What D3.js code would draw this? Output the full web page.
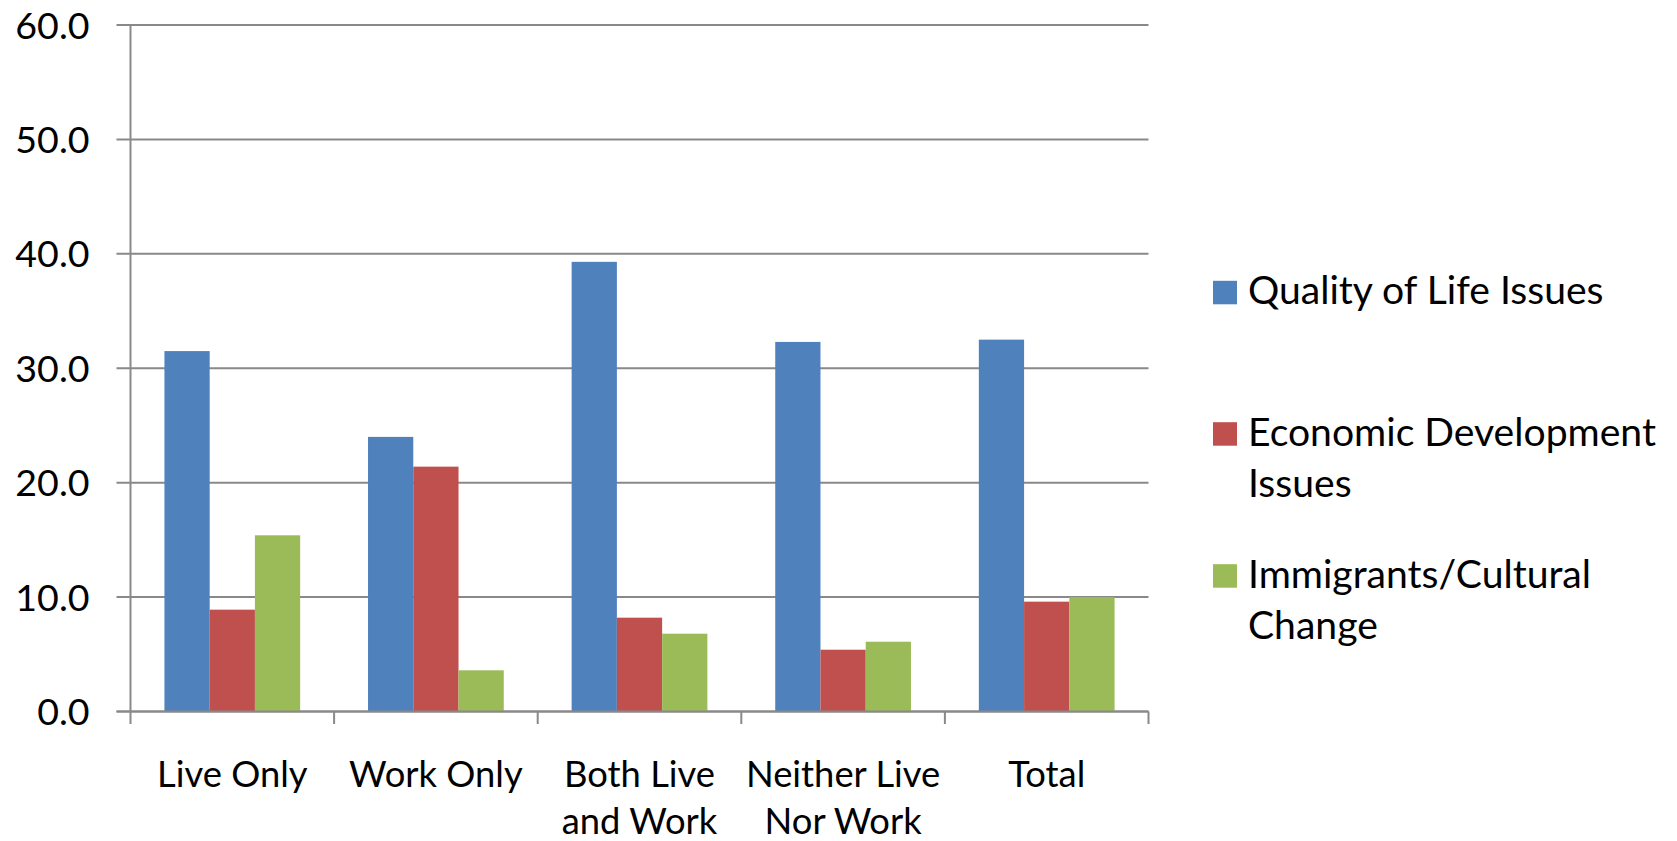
<!DOCTYPE html>
<html>
<head>
<meta charset="utf-8">
<script src="https://cdn.jsdelivr.net/npm/d3@7"></script>
<style>
  html, body { margin: 0; padding: 0; background: #fff; }
  svg { display: block; }
  text { font-family: Lato, "Open Sans", "Noto Sans", sans-serif; fill: #000; }
</style>
</head>
<body>
<svg id="chart" width="1677" height="841"></svg>
<script>
// ---- data ----
const categories = ["Live Only", "Work Only", "Both Live and Work", "Neither Live Nor Work", "Total"];
const categoryLines = [["Live Only"], ["Work Only"], ["Both Live", "and Work"], ["Neither Live", "Nor Work"], ["Total"]];
const seriesNames = ["Quality of Life Issues", "Economic Development Issues", "Immigrants/Cultural Change"];
const legendLines = [["Quality of Life Issues"], ["Economic Development", "Issues"], ["Immigrants/Cultural", "Change"]];
const qualityOfLife = [31.5, 24.0, 39.3, 32.3, 32.5];
const economicDevelopment = [8.9, 21.4, 8.2, 5.4, 9.6];
const immigrantsCultural = [15.4, 3.6, 6.8, 6.1, 10.0];
const yTicks = [0, 10, 20, 30, 40, 50, 60];
const yTickLabels = ["0.0", "10.0", "20.0", "30.0", "40.0", "50.0", "60.0"];
const seriesColors = ["#4F81BD", "#C0504D", "#9BBB59"];

const seriesValues = [qualityOfLife, economicDevelopment, immigrantsCultural];

// ---- layout ----
const svg = d3.select("#chart");
const plotLeft = 130.5, plotRight = 1148.5, plotTop = 25, plotBottom = 711.5;
const gridColor = "#898989";

// font size fitted to reference text width
const probe = svg.append("text").attr("font-size", 40).text("Economic Development");
const probeW = probe.node().getComputedTextLength();
probe.remove();
const fsLegend = 40 * 408 / probeW;
const fsX = fsLegend * 0.93;
const fsY = fsLegend * 0.96;

const x = d3.scaleBand().domain(categories).range([plotLeft, plotRight]).paddingInner(0).paddingOuter(0);
const bw = x.bandwidth();
const xSub = d3.scaleBand().domain(seriesNames).range([bw / 6, bw * 5 / 6]).padding(0);
const y = d3.scaleLinear().domain([0, 60]).range([plotBottom, plotTop]);

// gridlines
svg.append("g").selectAll("line").data(yTicks).join("line")
  .attr("x1", plotLeft - 14).attr("x2", plotRight)
  .attr("y1", d => y(d)).attr("y2", d => y(d))
  .attr("stroke", gridColor).attr("stroke-width", 2);

// y axis line
svg.append("line").attr("x1", plotLeft).attr("x2", plotLeft)
  .attr("y1", y(60)).attr("y2", y(0)).attr("stroke", gridColor).attr("stroke-width", 2);

// y labels
svg.append("g").selectAll("text").data(yTicks).join("text")
  .attr("x", plotLeft - 41).attr("y", d => y(d)).attr("dy", "0.36em")
  .attr("text-anchor", "end").attr("font-size", fsY)
  .text((d, i) => yTickLabels[i]);

// bars
const groups = svg.append("g").selectAll("g").data(categories).join("g")
  .attr("transform", d => `translate(${x(d)},0)`);
groups.selectAll("rect").data((c, ci) => seriesNames.map((s, si) => ({ s, si, v: seriesValues[si][ci] })))
  .join("rect")
  .attr("x", d => xSub(d.s)).attr("width", xSub.bandwidth())
  .attr("y", d => y(d.v)).attr("height", d => y(0) - y(d.v))
  .attr("fill", d => seriesColors[d.si]);

// x axis line and ticks
svg.append("line").attr("x1", plotLeft - 14).attr("x2", plotRight)
  .attr("y1", y(0)).attr("y2", y(0)).attr("stroke", gridColor).attr("stroke-width", 2);
const boundaries = categories.map(c => x(c)).concat([x(categories[categories.length - 1]) + bw]);
svg.append("g").selectAll("line").data(boundaries).join("line")
  .attr("x1", d => d).attr("x2", d => d)
  .attr("y1", y(0)).attr("y2", y(0) + 12.5)
  .attr("stroke", gridColor).attr("stroke-width", 2);

// x labels
const xl = svg.append("g").selectAll("text").data(categories).join("text")
  .attr("text-anchor", "middle").attr("font-size", fsX)
  .attr("transform", d => `translate(${x(d) + bw / 2},786.7)`);
xl.selectAll("tspan").data((d, i) => categoryLines[i]).join("tspan")
  .attr("x", 0).attr("y", (d, i) => i * 47.3).text(d => d);

// legend
const legendBaselines = [304.3, 445.7, 587.7];
const lg = svg.append("g").selectAll("g").data(seriesNames).join("g")
  .attr("transform", (d, i) => `translate(1213,${legendBaselines[i]})`);
lg.append("rect").attr("x", 0).attr("y", -23.5).attr("width", 24).attr("height", 23.5)
  .attr("fill", (d, i) => seriesColors[i]);
lg.append("text").attr("font-size", fsLegend)
  .selectAll("tspan").data((d, i) => legendLines[i]).join("tspan")
  .attr("x", 35).attr("y", (d, i) => i * 51.5).text(d => d);
</script>
</body>
</html>
